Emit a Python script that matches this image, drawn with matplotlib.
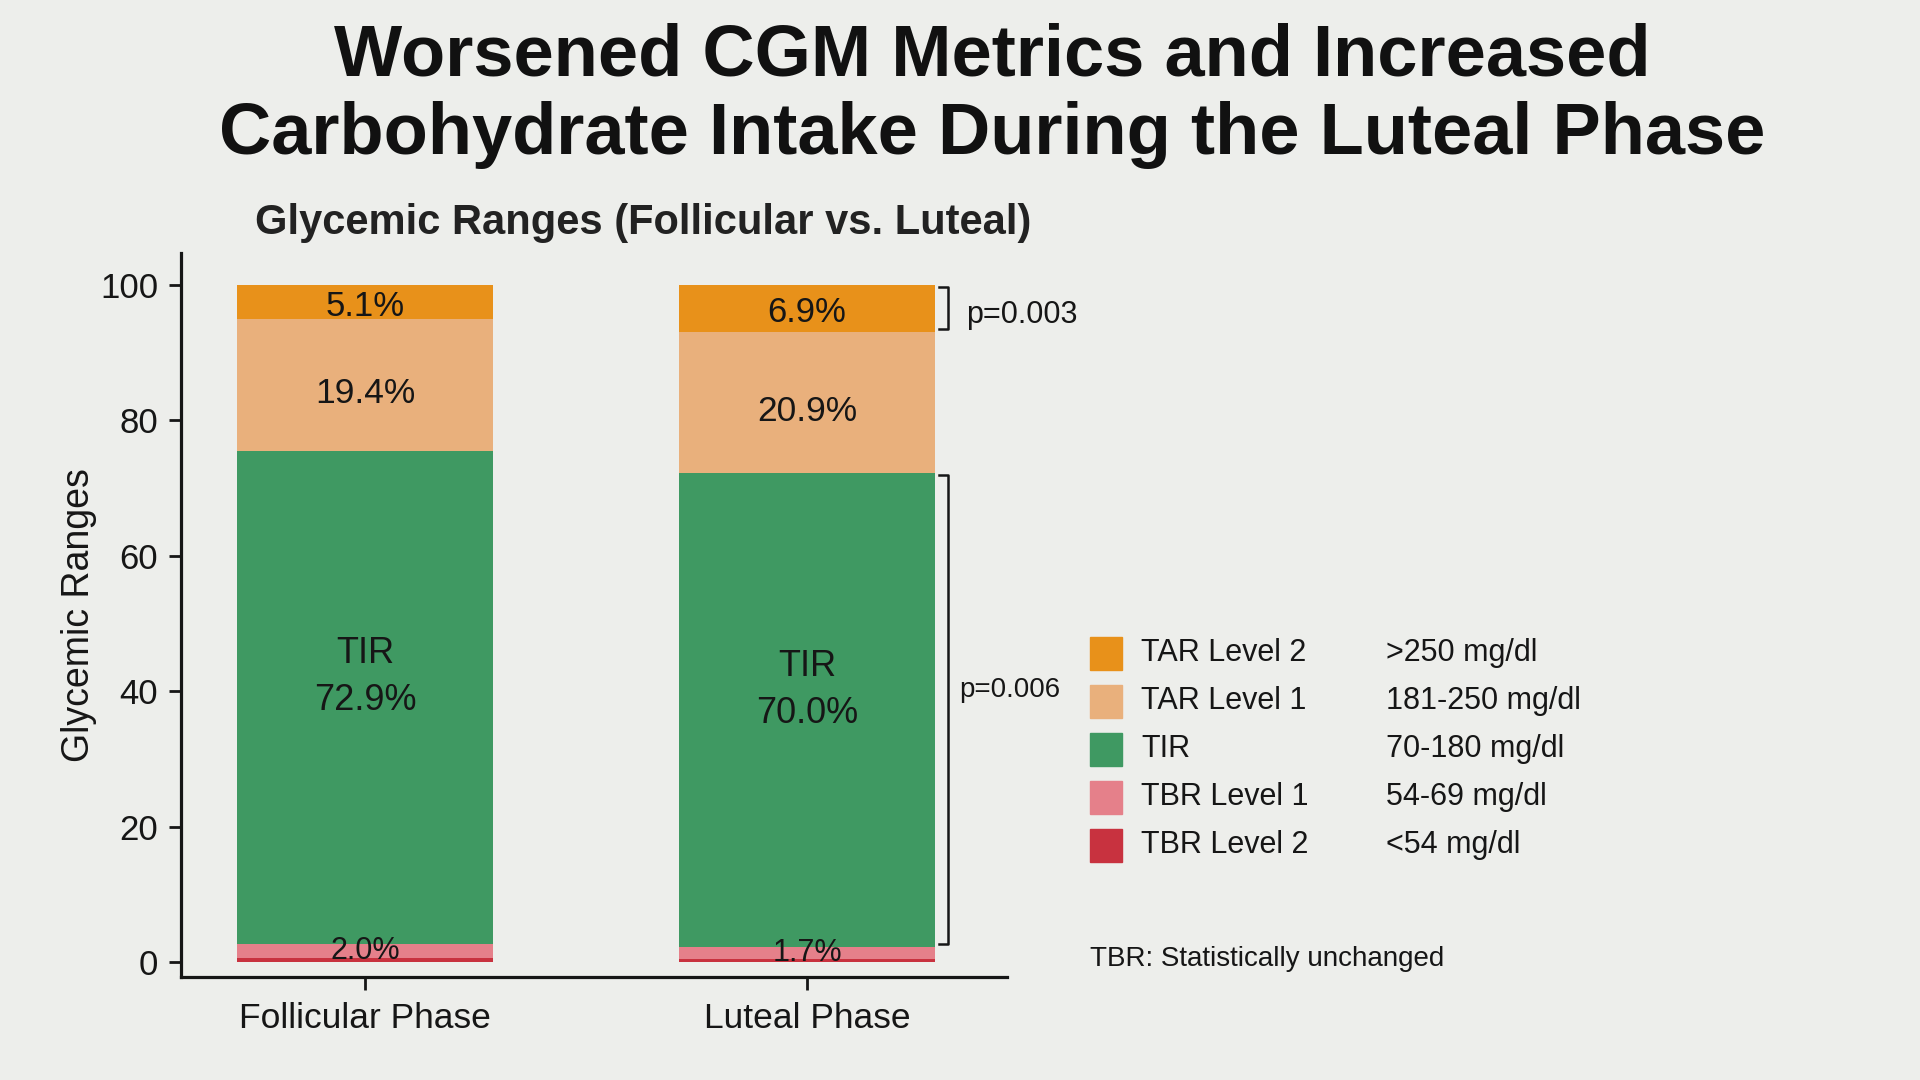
import matplotlib
matplotlib.use('Agg')
import matplotlib.pyplot as plt
import numpy as np
from matplotlib.patches import Rectangle

# ---------------- data ----------------
phases = ['Follicular Phase', 'Luteal Phase']
categories = ['TBR Level 2', 'TBR Level 1', 'TIR', 'TAR Level 1', 'TAR Level 2']
ranges = ['<54 mg/dl', '54-69 mg/dl', '70-180 mg/dl', '181-250 mg/dl', '>250 mg/dl']
tbr2 = [0.6, 0.5]
tbr1 = [2.0, 1.7]
tir = [72.9, 70.0]
tar1 = [19.4, 20.9]
tar2 = [5.1, 6.9]
p_tar2 = 'p=0.003'
p_tir = 'p=0.006'
y_ticks = [0, 20, 40, 60, 80, 100]
title = 'Worsened CGM Metrics and Increased\nCarbohydrate Intake During the Luteal Phase'
subtitle = 'Glycemic Ranges (Follicular vs. Luteal)'
ylabel = 'Glycemic Ranges'
footnote = 'TBR: Statistically unchanged'

# ---------------- style ----------------
colors = ['#C8323F', '#E5808A', '#3F9962', '#E9B07C', '#E8911A']
BG = '#EDEEEB'
TXT = '#161616'
plt.rcParams['font.family'] = ['Liberation Sans', 'DejaVu Sans']

W, H = 1920, 1080
fig = plt.figure(figsize=(19.2, 10.8), dpi=100, facecolor=BG)
ax = fig.add_axes([181 / W, 1 - 977 / H, (1007 - 181) / W, (977 - 253) / H])
ax.set_facecolor(BG)

x = np.arange(len(phases))
series = [tbr2, tbr1, tir, tar1, tar2]
bottom = np.zeros(len(phases))
bottoms = []
for vals, c in zip(series, colors):
    vals = np.array(vals, dtype=float)
    ax.bar(x, vals, width=0.58, bottom=bottom, color=c, edgecolor='none', zorder=2)
    bottoms.append(bottom.copy())
    bottom = bottom + vals

# segment labels
for i in range(len(phases)):
    c1 = bottoms[1][i] + tbr1[i] / 2
    ax.text(x[i], c1, f'{tbr1[i]:.1f}%', ha='center', va='center', fontsize=22, color=TXT, zorder=3)
    c2 = bottoms[2][i] + tir[i] / 2 + 3
    ax.text(x[i], c2, f'TIR\n{tir[i]:.1f}%', ha='center', va='center', fontsize=26,
            color=TXT, linespacing=1.45, zorder=3)
    c3 = bottoms[3][i] + tar1[i] / 2 - 1.3
    ax.text(x[i], c3, f'{tar1[i]:.1f}%', ha='center', va='center', fontsize=25.5, color=TXT, zorder=3)
    c4 = bottoms[4][i] + tar2[i] / 2 - 0.6
    ax.text(x[i], c4, f'{tar2[i]:.1f}%', ha='center', va='center', fontsize=25, color=TXT, zorder=3)

# brackets on luteal bar
j = 1
bx = 1.318
for lo, hi, ptxt, ty, tx, fs in [
    (bottoms[4][j], bottoms[4][j] + tar2[j], p_tar2, bottoms[4][j] + tar2[j] / 2 - 1.0, 1.36, 22),
    (bottoms[2][j], bottoms[2][j] + tir[j], p_tir, bottoms[2][j] + tir[j] / 2 + 3, 1.344, 20),
]:
    ax.plot([bx - 0.02, bx, bx, bx - 0.02], [hi - 0.3, hi - 0.3, lo + 0.4, lo + 0.4],
            color=TXT, lw=1.8, clip_on=False, zorder=3)
    ax.text(tx, ty, ptxt, ha='left', va='center', fontsize=fs, color=TXT)

ax.set_xlim(-0.416, 1.452)
ax.set_ylim(-2.2, 104.7)
ax.set_xticks(x)
ax.set_xticklabels(phases)
ax.set_yticks(y_ticks)
for s in ['top', 'right']:
    ax.spines[s].set_visible(False)
for s in ['left', 'bottom']:
    ax.spines[s].set_linewidth(2.3)
    ax.spines[s].set_color(TXT)
ax.tick_params(axis='y', length=8.5, width=2.0, pad=8, labelsize=25, colors=TXT)
ax.tick_params(axis='x', length=9, width=2.0, pad=9, labelsize=25.5, colors=TXT)
ax.set_ylabel(ylabel, fontsize=27, color=TXT)
ax.yaxis.set_label_coords(-0.102, 0.5)

# titles
fig.text(992 / W, 1 - 96 / H, title, ha='center', va='center', fontsize=52,
         weight='bold', color='#111111', linespacing=1.2)
fig.text(255 / W, 1 - 223 / H, subtitle, ha='left', va='center', fontsize=30,
         weight='bold', color='#222222')

# legend (top to bottom: reversed stacking order)
row_y = 653
for name, rng, c in zip(categories[::-1], ranges[::-1], colors[::-1]):
    fig.add_artist(Rectangle((1090 / W, 1 - (row_y + 16.5) / H), 32 / W, 33 / H,
                             transform=fig.transFigure, color=c))
    fig.text(1141 / W, 1 - row_y / H, name, ha='left', va='center', fontsize=22, color=TXT)
    fig.text(1386 / W, 1 - row_y / H, rng, ha='left', va='center', fontsize=22, color=TXT)
    row_y += 48

fig.text(1090 / W, 1 - 959 / H, footnote, ha='left', va='center', fontsize=20, color=TXT)

fig.savefig('out.png', dpi=100, facecolor=BG)
